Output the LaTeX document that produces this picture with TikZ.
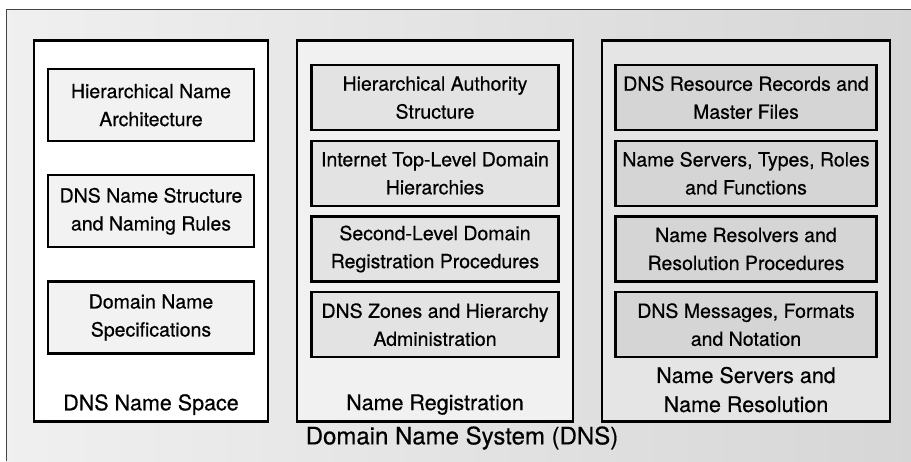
\documentclass[tikz,border=0pt]{standalone}
\usepackage{fontspec}
\setmainfont[FakeBold=0.5,AutoFakeBold=0.5]{TeX Gyre Heros}
\usetikzlibrary{positioning}

\begin{document}
\begin{tikzpicture}[
  x=1pt, y=-1pt,
  panel/.style={draw, line width=2.6pt, minimum width=#1, minimum height=381pt, anchor=north, inner sep=0pt},
  topic/.style={draw, line width=2.2pt, align=center, inner sep=0pt, font=\fontsize{19.5}{28}\selectfont},
  caption/.style={align=center, font=\fontsize{21.5}{29}\selectfont}
]
  \useasboundingbox (0,0) rectangle (911,461);
  \fill[left color=gray!12, right color=gray!32] (6,9) rectangle (911,461);
  \coordinate (frametop) at (911,9);
  \coordinate (framebot) at (6,461);
  \draw[gray!55!black, line width=1pt] (framebot) |- (frametop);

  \node[panel=234pt, fill=white] (space) at (151,39) {};
  \node[panel=276pt, fill=gray!11] (registration) at (435,39) {};
  \node[panel=288pt, fill=gray!20] (resolution) at (746,39) {};

  % DNS name space
  \node[topic, fill=gray!10, minimum width=206pt, minimum height=72pt, below=29pt of space.north] (arch) {Hierarchical Name\\Architecture};
  \node[topic, fill=gray!10, minimum width=206pt, minimum height=72pt, below=32pt of arch] (rules) {DNS Name Structure\\and Naming Rules};
  \node[topic, fill=gray!10, minimum width=206pt, minimum height=72pt, below=32pt of rules] (specs) {Domain Name\\Specifications};
  \node[caption] (spacecap) at ([yshift=18pt]space.south) {DNS Name Space};

  % name registration
  \node[topic, fill=gray!22, minimum width=247pt, minimum height=65pt, below=25pt of registration.north] (authority) {Hierarchical Authority\\Structure};
  \node[topic, fill=gray!22, minimum width=247pt, minimum height=65pt, below=8.5pt of authority] (tld) {Internet Top-Level Domain\\Hierarchies};
  \node[topic, fill=gray!22, minimum width=247pt, minimum height=65pt, below=8.5pt of tld] (sld) {Second-Level Domain\\Registration Procedures};
  \node[topic, fill=gray!22, minimum width=247pt, minimum height=65pt, below=8.5pt of sld] (zones) {DNS Zones and Hierarchy\\Administration};
  \node[caption] (registrationcap) at ([yshift=18pt]registration.south) {Name Registration};

  % name servers and resolution
  \node[topic, fill=gray!33, minimum width=261pt, minimum height=65pt, below=25pt of resolution.north] (records) {DNS Resource Records and\\Master Files};
  \node[topic, fill=gray!33, minimum width=261pt, minimum height=65pt, below=8.5pt of records] (servers) {Name Servers, Types, Roles\\and Functions};
  \node[topic, fill=gray!33, minimum width=261pt, minimum height=65pt, below=8.5pt of servers] (resolvers) {Name Resolvers and\\Resolution Procedures};
  \node[topic, fill=gray!33, minimum width=261pt, minimum height=65pt, below=8.5pt of resolvers] (messages) {DNS Messages, Formats\\and Notation};
  \node[caption] (resolutioncap) at ([yshift=33pt]resolution.south) {Name Servers and\\Name Resolution};

  \node[font=\fontsize{24}{28}\selectfont] (system) at (462,438) {Domain Name System (DNS)};
\end{tikzpicture}
\end{document}
